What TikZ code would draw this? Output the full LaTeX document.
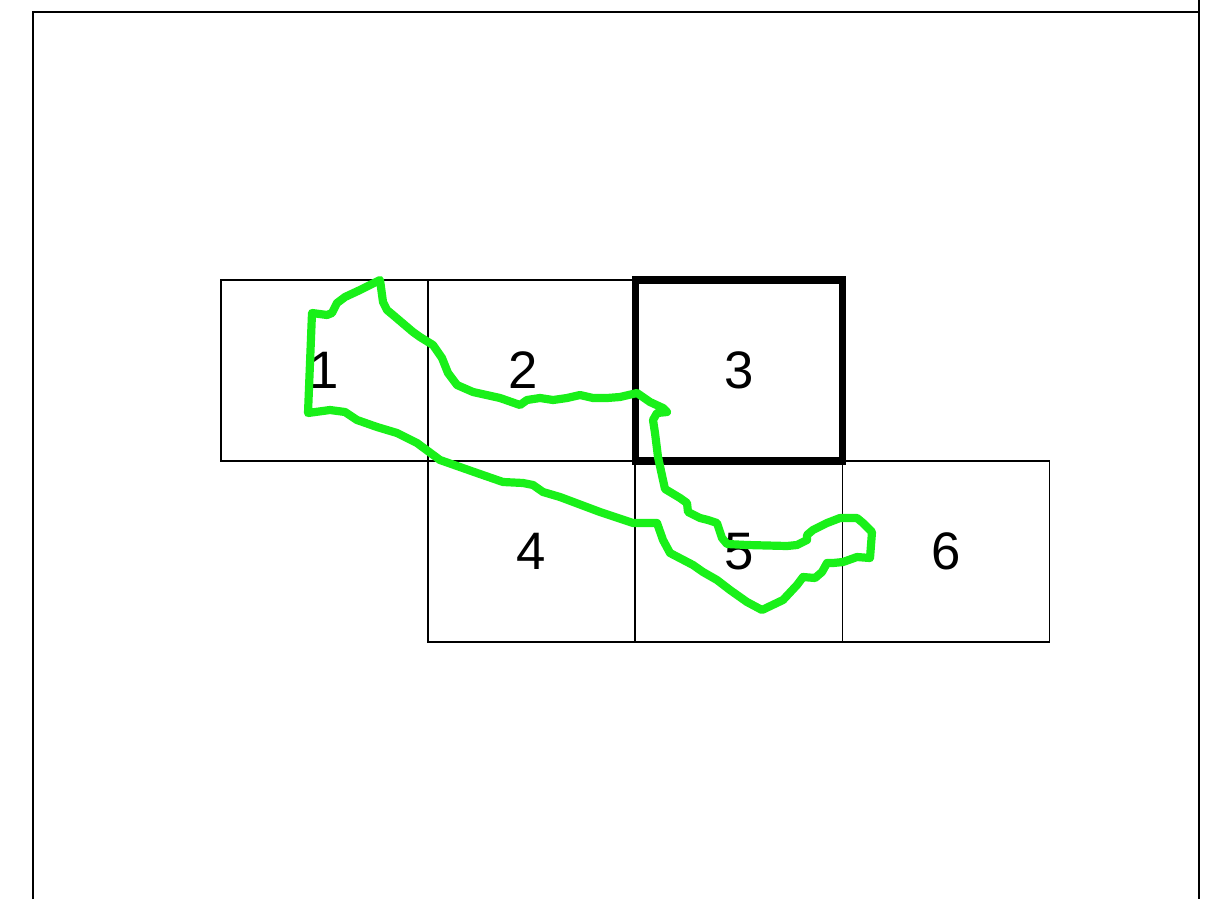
\documentclass[tikz,border=0pt]{standalone}
\usepackage{fontspec}
\setmainfont{Liberation Sans}
\usepackage{tikz}
\definecolor{trackgreen}{RGB}{25,240,25}
\tikzset{cell/.style={draw,line width=1pt,minimum width=6.21cm,minimum height=5.43cm,
 inner sep=0pt,font=\fontsize{45}{48}\selectfont},
 picked/.style={cell,line width=6.5pt},
 frame/.style={line width=1.6pt},
 track/.style={trackgreen,line width=7pt,line join=round,line cap=round}}

\begin{document}
\begin{tikzpicture}[x=0.03cm,y=-0.03cm]
\useasboundingbox (0,0) rectangle (1209,899);
% sheet border
\coordinate (tl) at (33,12);
\coordinate (bl) at (33,899);
\coordinate (tr) at (1199,0);
\coordinate (br) at (1199,899);
\draw[frame] (bl) -- (tl) -- (tl -| tr);
\draw[frame] (tr) -- (br);
% tiles
\node[cell] (c1) at (324.5,370.5) {1};
\node[cell,text width=6.21cm,align=center] (c2) at (531.5,370.5) {\hspace*{-0.5cm}2};
\node[cell] (c4) at (531.5,551.5) {4};
\node[cell] (c5) at (739,551.5) {5};
\node[cell] (c6) at (946,551.5) {6};
\node[picked] (c3) at (739,370.5) {3};
% route
\draw[track] (380,280) -- (360,290) -- (345,297) -- (337,303) -- (332,313) -- (327,315)
 -- (312,313) -- (308,413) -- (330,410) -- (345,412) -- (357,420) -- (377,427)
 -- (397,433) -- (417,443) -- (440,460) -- (477,473) -- (503,482) -- (523,483)
 -- (533,485) -- (543,492) -- (560,497) -- (600,512) -- (633,523) -- (657,523)
 -- (663,540) -- (670,553) -- (693,565) -- (703,572) -- (717,580) -- (730,590)
 -- (747,602) -- (762,610) -- (783,600) -- (797,585) -- (803,577) -- (815,578)
 -- (822,572) -- (827,563) -- (833,563) -- (843,562) -- (857,557) -- (870,558)
 -- (872,532) -- (863,523) -- (857,518) -- (840,518) -- (827,523) -- (813,530)
 -- (807,535) -- (807,540) -- (797,545) -- (787,546) -- (747,545) -- (727,544)
 -- (722,538) -- (717,523) -- (708,520) -- (700,518) -- (688,512) -- (687,503)
 -- (680,498) -- (665,489) -- (663,480) -- (658,457) -- (655,433) -- (653,420)
 -- (657,413) -- (667,412) -- (663,408) -- (650,402) -- (637,393) -- (620,397)
 -- (607,398) -- (593,398) -- (580,395) -- (567,398) -- (553,400) -- (540,398)
 -- (527,400) -- (520,405) -- (500,398) -- (473,392) -- (457,385) -- (448,373)
 -- (442,358) -- (433,345) -- (420,337) -- (413,332) -- (393,315) -- (387,310)
 -- (383,302) -- cycle;
\end{tikzpicture}
\end{document}
